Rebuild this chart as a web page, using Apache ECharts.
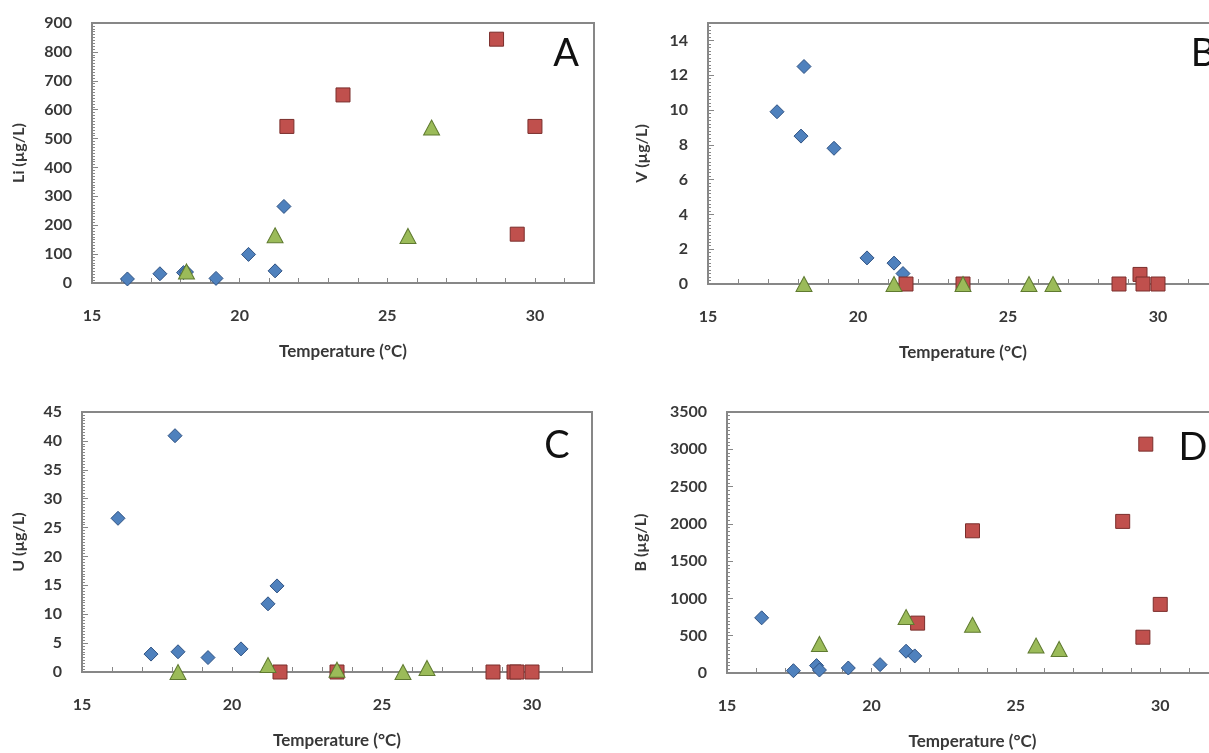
<!DOCTYPE html>
<html>
<head>
<meta charset="utf-8">
<title>Temperature vs Li, V, U, B</title>
<script src="https://cdn.jsdelivr.net/npm/echarts@6/dist/echarts.min.js"></script>
<style>
  html, body { margin: 0; padding: 0; background: #fff; }
  #chart { width: 1209px; height: 753px; }
</style>
</head>
<body>
<div id="chart"></div>
<script>
// sample temperatures (°C) for the three groups
const blueTemp = [16.2, 17.3, 18.1, 18.2, 19.2, 20.3, 21.2, 21.5]
const redTemp = [21.6, 23.5, 28.7, 29.4, 29.5, 30.0]
const greenTemp = [18.2, 21.2, 23.5, 25.7, 26.5]

// Li (µg/L)
const liBlue = [14, 32, 36, 38, 16, 99, 42, 265]
const liRed = [542, 651, 844, 169, null, 542]
const liGreen = [40, 165, null, 163, 538]
// V (µg/L)
const vBlue = [null, 9.9, 8.5, 12.5, 7.8, 1.5, 1.2, 0.6]
const vRed = [0, 0, 0, 0.55, 0, 0]
const vGreen = [0, 0, 0, 0, 0]
// U (µg/L)
const uBlue = [26.6, 3.1, 40.9, 3.5, 2.5, 4.0, 11.8, 14.9]
const uRed = [0, 0, 0, 0, 0, 0]
const uGreen = [0, 1.2, 0.4, 0, 0.7]
// B (µg/L)
const bBlue = [740, 31, 99, 40, 67, 112, 292, 229]
const bRed = [669, 1907, 2033, 480, 3069, 920]
const bGreen = [390, 750, 646, 368, 323]

const xTickLabels = [15, 20, 25, 30]

const panels = [
  { tag: 'A', yName: 'Li (µg/L)', yMax: 900, yStep: 100, blue: liBlue, red: liRed, green: liGreen,
    grid: { left: 92, top: 23, width: 502, height: 260 }, nameGap: 65, tagPos: [566, 54] },
  { tag: 'B', yName: 'V (µg/L)', yMax: 15, yStep: 2, blue: vBlue, red: vRed, green: vGreen,
    grid: { left: 708, top: 23, width: 510, height: 261 }, nameGap: 58, tagPos: [1203, 54] },
  { tag: 'C', yName: 'U (µg/L)', yMax: 45, yStep: 5, blue: uBlue, red: uRed, green: uGreen,
    grid: { left: 82, top: 412, width: 510, height: 260 }, nameGap: 55, tagPos: [557, 446] },
  { tag: 'D', yName: 'B (µg/L)', yMax: 3500, yStep: 500, blue: bBlue, red: bRed, green: bGreen,
    grid: { left: 727, top: 412, width: 491, height: 261 }, nameGap: 78, tagPos: [1193, 448] },
]

const axisGray = '#878787'
const labelFont = { fontFamily: 'Lato', fontWeight: 'bold', fontSize: 16, color: '#383838' }

const pairs = (xs, ys) => xs.map((x, i) => [x, ys[i]]).filter((d) => d[1] != null)

const grids = []
const xAxes = []
const yAxes = []
const series = []
const graphic = []

panels.forEach((p, i) => {
  // B and D run past the right edge of the picture, so no bounds clamping
  grids.push({ ...p.grid, show: true, borderColor: axisGray, borderWidth: 2, containLabel: false, outerBoundsMode: 'none' })
  xAxes.push({
    gridIndex: i,
    type: 'value',
    min: 15,
    max: 32,
    interval: 1,
    name: 'Temperature (°C)',
    nameLocation: 'middle',
    nameGap: 60,
    nameTextStyle: { ...labelFont, fontSize: 17 },
    axisLine: { show: true, onZero: false, lineStyle: { color: axisGray, width: 2 } },
    axisTick: { show: true, inside: true, length: 5, lineStyle: { color: axisGray } },
    axisLabel: {
      ...labelFont,
      margin: 25,
      formatter: (v) => (xTickLabels.includes(v) ? String(v) : ''),
    },
    splitLine: { show: false },
  })
  yAxes.push({
    gridIndex: i,
    type: 'value',
    min: 0,
    max: p.yMax,
    interval: p.yStep,
    name: p.yName,
    nameLocation: 'middle',
    nameRotate: 90,
    nameGap: p.nameGap,
    nameTextStyle: labelFont,
    axisLine: { show: true, onZero: false, lineStyle: { color: axisGray, width: 2 } },
    axisTick: { show: true, inside: true, length: 6, lineStyle: { color: axisGray } },
    minorTick: { show: true, splitNumber: 10, length: 3, lineStyle: { color: axisGray } },
    axisLabel: {
      ...labelFont,
      margin: 20,
      formatter: (v) => (v % p.yStep === 0 ? String(v) : ''),
    },
    splitLine: { show: false },
  })
  series.push(
    {
      type: 'scatter', xAxisIndex: i, yAxisIndex: i,
      symbol: 'diamond', symbolSize: 14,
      itemStyle: { color: '#4f81bd', borderColor: '#2f5283', borderWidth: 1, opacity: 1 },
      data: pairs(blueTemp, p.blue),
    },
    {
      type: 'scatter', xAxisIndex: i, yAxisIndex: i,
      symbol: 'rect', symbolSize: 14,
      itemStyle: { color: '#c0504d', borderColor: '#7a2e2c', borderWidth: 1, opacity: 1 },
      data: pairs(redTemp, p.red),
    },
    {
      type: 'scatter', xAxisIndex: i, yAxisIndex: i,
      symbol: 'triangle', symbolSize: [16, 15],
      itemStyle: { color: '#9bbb59', borderColor: '#5f7a30', borderWidth: 1, opacity: 1 },
      data: pairs(greenTemp, p.green),
    }
  )
  graphic.push({
    type: 'text',
    x: p.tagPos[0],
    y: p.tagPos[1],
    style: {
      text: p.tag,
      align: 'center',
      verticalAlign: 'middle',
      font: '38px Lato',
      fill: '#111',
    },
  })
})

const chart = echarts.init(document.getElementById('chart'))
chart.setOption({
  backgroundColor: '#fff',
  animation: false,
  grid: grids,
  xAxis: xAxes,
  yAxis: yAxes,
  series,
  graphic,
})
window.addEventListener('resize', () => chart.resize())
</script>
</body>
</html>
